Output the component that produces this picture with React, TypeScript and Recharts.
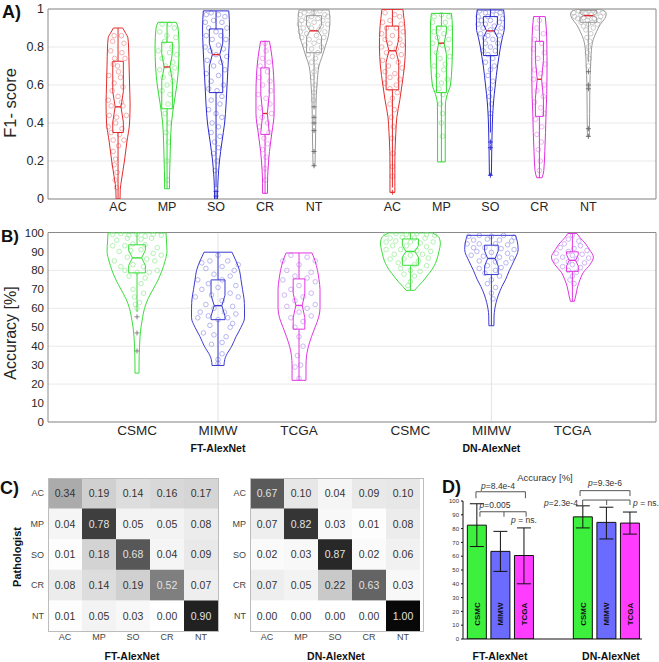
import React from 'react';
import {
  ScatterChart, Scatter, XAxis, YAxis, CartesianGrid, ReferenceLine,
  BarChart, Bar, Cell, LabelList, ErrorBar,
} from 'recharts';

const FONT = '"Liberation Sans", Arial, Helvetica, sans-serif';

// ---------- categories ----------
const classNames = ['AC', 'MP', 'SO', 'CR', 'NT'];
const modelNames = ['FT-AlexNet', 'DN-AlexNet'];
const datasetNames = ['CSMC', 'MIMW', 'TCGA'];

const classColors = ['#e42c2c', '#2fdc2f', '#2a2ad0', '#e02ee0', '#9a9a9a'];
const classPointColors = ['#f29c9c', '#9aea9a', '#a0a0ea', '#f0a0f0', '#c0c0c0'];
const datasetColors = ['#3ade3a', '#3c3cd4', '#e235e2'];
const datasetPointColors = ['#a2eea2', '#a6a6ee', '#c4a4f2'];
const barColors = ['#3df03d', '#6b6bff', '#ff3cff'];

// ---------- Panel A: F1-score violins (FT AC..NT, DN AC..NT) ----------
// profile: [value, half-width]
const aProfiles: number[][][] = [
  [[0, 0.04], [0.05, 0.045], [0.1, 0.07], [0.2, 0.13], [0.3, 0.18], [0.4, 0.235], [0.5, 0.245], [0.6, 0.235], [0.7, 0.225], [0.8, 0.215], [0.85, 0.2], [0.87, 0.16], [0.9, 0.095]],
  [[0.054, 0.05], [0.1, 0.05], [0.2, 0.06], [0.3, 0.07], [0.4, 0.09], [0.5, 0.14], [0.6, 0.2], [0.7, 0.235], [0.8, 0.245], [0.9, 0.225], [0.93, 0.185]],
  [[0, 0.03], [0.1, 0.04], [0.2, 0.07], [0.3, 0.12], [0.4, 0.175], [0.5, 0.205], [0.6, 0.225], [0.7, 0.245], [0.8, 0.265], [0.9, 0.275], [0.99, 0.26]],
  [[0.03, 0.05], [0.08, 0.05], [0.15, 0.06], [0.25, 0.09], [0.35, 0.14], [0.45, 0.185], [0.55, 0.185], [0.65, 0.175], [0.75, 0.14], [0.83, 0.09]],
  [[0.175, 0.02], [0.3, 0.03], [0.5, 0.04], [0.6, 0.06], [0.7, 0.1], [0.75, 0.165], [0.8, 0.225], [0.85, 0.285], [0.9, 0.315], [0.95, 0.325], [0.995, 0.305]],
  [[0.035, 0.05], [0.1, 0.05], [0.2, 0.05], [0.3, 0.06], [0.35, 0.07], [0.43, 0.09], [0.52, 0.15], [0.6, 0.195], [0.7, 0.245], [0.8, 0.265], [0.9, 0.255], [0.95, 0.235], [0.998, 0.215]],
  [[0.195, 0.078], [0.3, 0.078], [0.4, 0.078], [0.5, 0.082], [0.55, 0.12], [0.6, 0.185], [0.7, 0.215], [0.8, 0.225], [0.9, 0.225], [0.977, 0.205]],
  [[0.125, 0.02], [0.3, 0.03], [0.4, 0.04], [0.5, 0.06], [0.6, 0.1], [0.7, 0.145], [0.75, 0.175], [0.8, 0.205], [0.85, 0.245], [0.9, 0.285], [0.95, 0.285], [0.995, 0.27]],
  [[0.112, 0.055], [0.15, 0.09], [0.25, 0.11], [0.35, 0.125], [0.45, 0.135], [0.55, 0.15], [0.65, 0.155], [0.75, 0.155], [0.85, 0.15], [0.96, 0.12]],
  [[0.328, 0.02], [0.45, 0.025], [0.6, 0.03], [0.7, 0.045], [0.78, 0.06], [0.84, 0.1], [0.88, 0.165], [0.92, 0.245], [0.95, 0.335], [0.975, 0.365], [0.99, 0.32], [0.998, 0.24]],
];
// [q1, median, q3]
const aBoxes: number[][] = [
  [0.35, 0.485, 0.725], [0.475, 0.695, 0.825], [0.56, 0.76, 0.895], [0.34, 0.45, 0.69], [0.77, 0.885, 0.965],
  [0.575, 0.78, 0.91], [0.56, 0.82, 0.91], [0.755, 0.885, 0.96], [0.435, 0.63, 0.83], [0.93, 0.965, 0.993],
];
const aBoxHalfWidths = [0.108, 0.108, 0.137, 0.086, 0.153, 0.129, 0.102, 0.143, 0.082, 0.17];
const aNotches = [0.08, 0.07, 0.06, 0.1, 0.03, 0.06, 0.06, 0.035, 0.1, 0.012];
const aWhiskers: number[][] = [
  [0, 0.9], [0.054, 0.93], [0.06, 0.99], [0.03, 0.83], [0.5, 0.998],
  [0.06, 0.998], [0.195, 0.977], [0.35, 0.998], [0.112, 0.96], [0.72, 0.998],
];
const aOutliers: number[][] = [
  [], [], [0.04, 0.015], [], [0.485, 0.43, 0.4, 0.36, 0.25, 0.175],
  [0.035], [], [0.3, 0.27, 0.125], [], [0.67, 0.6, 0.58, 0.37, 0.33],
];
// jittered observations: [x offset, value]
const aPoints: number[][][] = [
  [[-0.08, 0.86], [0.07, 0.86], [-0.11, 0.83], [0.12, 0.82], [-0.15, 0.78], [0.08, 0.77], [-0.07, 0.74], [0.14, 0.74], [-0.1, 0.71], [-0.01, 0.7], [0.01, 0.67], [-0.19, 0.65], [0.05, 0.64], [-0.08, 0.61], [0.1, 0.59], [-0.12, 0.57], [0.0, 0.54], [-0.2, 0.52], [0.07, 0.51], [-0.14, 0.49], [0.1, 0.49], [-0.18, 0.44], [-0.03, 0.43], [0.17, 0.44], [-0.2, 0.38], [-0.05, 0.4], [0.08, 0.37], [-0.14, 0.35], [0.03, 0.34], [-0.1, 0.31], [0.01, 0.28], [-0.1, 0.25], [-0.05, 0.21], [-0.08, 0.18], [-0.02, 0.14], [-0.06, 0.1], [-0.03, 0.06], [0.12, 0.31]],
  [[-0.1, 0.92], [0.05, 0.92], [0.15, 0.9], [-0.15, 0.88], [0.0, 0.86], [0.18, 0.85], [-0.05, 0.83], [0.1, 0.8], [-0.18, 0.78], [0.05, 0.77], [0.2, 0.76], [-0.1, 0.74], [0.12, 0.72], [-0.03, 0.7], [0.16, 0.69], [-0.15, 0.68], [0.08, 0.66], [-0.08, 0.64], [0.12, 0.62], [0.0, 0.6], [-0.1, 0.57], [0.06, 0.55], [0.02, 0.5], [-0.04, 0.45], [0.04, 0.4], [-0.02, 0.35], [0.03, 0.3], [0.0, 0.2], [0.01, 0.1]],
  [[-0.2, 0.97], [-0.1, 0.98], [0.05, 0.97], [0.18, 0.96], [-0.22, 0.93], [-0.05, 0.94], [0.12, 0.93], [-0.15, 0.9], [0.22, 0.9], [0.0, 0.88], [-0.2, 0.86], [0.1, 0.86], [-0.08, 0.84], [0.2, 0.84], [-0.22, 0.8], [0.05, 0.81], [0.15, 0.79], [-0.12, 0.78], [0.0, 0.76], [0.22, 0.75], [-0.18, 0.73], [0.1, 0.72], [-0.05, 0.7], [0.18, 0.68], [-0.2, 0.66], [0.05, 0.65], [-0.1, 0.62], [0.15, 0.6], [-0.15, 0.58], [0.02, 0.57], [0.12, 0.54], [-0.1, 0.52], [0.08, 0.5], [-0.15, 0.47], [0.0, 0.45], [0.12, 0.43], [-0.08, 0.4], [0.05, 0.38], [-0.1, 0.35], [0.08, 0.33], [-0.03, 0.3], [0.05, 0.27], [-0.05, 0.24], [0.02, 0.2], [-0.02, 0.15]],
  [[0.0, 0.82], [0.02, 0.78], [-0.05, 0.74], [0.08, 0.72], [-0.1, 0.7], [0.05, 0.67], [-0.12, 0.64], [0.1, 0.62], [-0.05, 0.6], [0.12, 0.57], [-0.14, 0.55], [0.02, 0.53], [0.1, 0.5], [-0.1, 0.48], [0.13, 0.45], [-0.06, 0.43], [0.05, 0.4], [-0.12, 0.38], [0.08, 0.35], [-0.02, 0.32], [0.05, 0.29], [-0.05, 0.26], [0.02, 0.22], [0.0, 0.16], [0.01, 0.1]],
  [[-0.28, 0.97], [-0.2, 0.98], [-0.1, 0.99], [0.0, 0.98], [0.12, 0.99], [0.22, 0.97], [0.28, 0.96], [-0.25, 0.94], [-0.15, 0.95], [-0.05, 0.96], [0.08, 0.95], [0.18, 0.94], [-0.3, 0.92], [-0.12, 0.92], [0.0, 0.93], [0.15, 0.91], [0.28, 0.92], [-0.22, 0.9], [-0.05, 0.9], [0.1, 0.89], [0.22, 0.88], [-0.28, 0.88], [-0.15, 0.87], [0.05, 0.86], [0.2, 0.85], [-0.1, 0.84], [-0.25, 0.85], [0.1, 0.83], [0.0, 0.82], [-0.18, 0.81], [0.15, 0.8], [-0.05, 0.79], [0.08, 0.77], [-0.12, 0.76], [0.03, 0.74], [-0.05, 0.72], [0.05, 0.7], [0.0, 0.67], [-0.03, 0.64], [0.02, 0.6], [0.0, 0.56], [-0.01, 0.52]],
  [[-0.15, 0.98], [0.05, 0.97], [0.15, 0.96], [-0.2, 0.93], [-0.05, 0.94], [0.18, 0.92], [-0.12, 0.9], [0.08, 0.9], [0.22, 0.88], [-0.22, 0.87], [0.0, 0.86], [-0.15, 0.84], [0.15, 0.84], [-0.05, 0.82], [0.2, 0.81], [-0.22, 0.8], [0.08, 0.79], [-0.12, 0.77], [0.18, 0.76], [0.0, 0.75], [-0.2, 0.73], [0.12, 0.72], [-0.08, 0.7], [0.2, 0.69], [-0.15, 0.67], [0.05, 0.66], [-0.05, 0.64], [0.15, 0.63], [-0.15, 0.61], [0.08, 0.6], [-0.05, 0.58], [0.1, 0.56], [0.0, 0.53], [-0.05, 0.5], [0.04, 0.47], [-0.02, 0.43], [0.02, 0.38], [-0.01, 0.32], [0.01, 0.24], [0.0, 0.17], [0.0, 0.12]],
  [[-0.15, 0.96], [0.0, 0.97], [0.15, 0.96], [-0.18, 0.93], [0.08, 0.93], [-0.05, 0.9], [0.18, 0.9], [-0.15, 0.88], [0.05, 0.87], [-0.08, 0.85], [0.15, 0.84], [-0.18, 0.82], [0.02, 0.81], [0.12, 0.79], [-0.1, 0.77], [0.17, 0.75], [-0.03, 0.74], [0.08, 0.71], [-0.15, 0.7], [0.05, 0.68], [-0.08, 0.65], [0.12, 0.63], [0.0, 0.61], [-0.05, 0.58], [0.03, 0.55], [-0.02, 0.5], [0.02, 0.45], [0.0, 0.4], [0.02, 0.33]],
  [[-0.22, 0.99], [-0.1, 0.98], [0.05, 0.99], [0.2, 0.98], [-0.25, 0.96], [-0.05, 0.96], [0.12, 0.97], [0.25, 0.95], [-0.18, 0.94], [0.0, 0.94], [0.18, 0.93], [-0.25, 0.92], [-0.1, 0.92], [0.08, 0.91], [0.22, 0.9], [-0.15, 0.9], [0.0, 0.89], [0.12, 0.88], [-0.2, 0.87], [-0.05, 0.86], [0.18, 0.86], [-0.12, 0.85], [0.05, 0.84], [0.15, 0.82], [-0.1, 0.82], [0.0, 0.8], [-0.15, 0.78], [0.1, 0.78], [-0.05, 0.76], [0.05, 0.74], [-0.1, 0.72], [0.08, 0.7], [0.0, 0.68], [-0.05, 0.65], [0.05, 0.62], [0.0, 0.58], [-0.02, 0.54], [0.02, 0.5], [0.0, 0.45]],
  [[0.0, 0.94], [-0.05, 0.9], [0.08, 0.87], [-0.1, 0.84], [0.05, 0.82], [-0.12, 0.79], [0.1, 0.77], [-0.03, 0.74], [0.12, 0.71], [-0.1, 0.68], [0.03, 0.66], [-0.12, 0.63], [0.1, 0.6], [-0.05, 0.57], [0.08, 0.54], [-0.1, 0.51], [0.03, 0.48], [0.1, 0.45], [-0.08, 0.42], [0.05, 0.38], [-0.05, 0.34], [0.04, 0.3], [-0.02, 0.26], [0.02, 0.2], [0.0, 0.15]],
  [[-0.3, 0.98], [-0.2, 0.99], [-0.1, 0.995], [0.0, 0.99], [0.1, 0.995], [0.2, 0.99], [0.3, 0.98], [-0.28, 0.96], [-0.15, 0.97], [-0.05, 0.98], [0.05, 0.97], [0.15, 0.975], [0.25, 0.96], [-0.22, 0.95], [-0.1, 0.955], [0.0, 0.96], [0.12, 0.95], [0.22, 0.94], [-0.15, 0.93], [-0.02, 0.94], [0.08, 0.93], [0.18, 0.92], [-0.1, 0.91], [0.0, 0.92], [0.1, 0.9], [-0.05, 0.89], [0.05, 0.87], [-0.03, 0.85], [0.03, 0.83], [0.0, 0.8], [-0.02, 0.77], [0.02, 0.74], [0.0, 0.7]],
];

// ---------- Panel B: accuracy violins (FT CSMC..TCGA, DN CSMC..TCGA) ----------
const bProfiles: number[][][] = [
  [[25.8, 0.025], [30, 0.025], [40, 0.031], [45, 0.037], [50, 0.049], [55, 0.068], [60, 0.093], [65, 0.136], [70, 0.198], [75, 0.26], [80, 0.309], [85, 0.346], [90, 0.37], [95, 0.364], [99.8, 0.358]],
  [[29.8, 0.074], [33, 0.083], [35, 0.1], [40, 0.169], [45, 0.222], [50, 0.284], [55, 0.327], [60, 0.327], [65, 0.321], [70, 0.302], [75, 0.284], [80, 0.265], [85, 0.222], [89.6, 0.173]],
  [[22, 0.086], [30, 0.086], [35, 0.093], [40, 0.117], [45, 0.154], [50, 0.198], [55, 0.241], [60, 0.259], [70, 0.259], [75, 0.247], [80, 0.228], [85, 0.198], [89.2, 0.16]],
  [[69.5, 0.053], [71.5, 0.093], [74, 0.148], [77, 0.204], [80, 0.259], [85, 0.321], [90, 0.352], [94, 0.37], [97, 0.358], [99.8, 0.272]],
  [[50.8, 0.031], [56, 0.033], [63, 0.058], [67, 0.086], [71.5, 0.13], [75, 0.173], [80, 0.222], [85, 0.278], [91, 0.33], [95, 0.321], [98.5, 0.296]],
  [[63.7, 0.025], [67, 0.043], [71.5, 0.065], [75, 0.093], [79, 0.136], [83, 0.216], [87, 0.259], [91, 0.21], [94.5, 0.154], [97, 0.099], [99.5, 0.056]],
];
const bBoxes: number[][] = [
  [78.7, 86.6, 93.5], [54, 61.4, 75], [49, 61.5, 75.5],
  [82.7, 90, 96.6], [77.8, 86.3, 93.3], [79.5, 85.3, 89.8],
];
const bBoxHalfWidths = [0.103, 0.086, 0.072, 0.099, 0.084, 0.072];
const bNotches = [4, 5.5, 6.5, 3, 4, 3];
const bWhiskers: number[][] = [[58, 99.8], [29.8, 89.6], [22, 89.2], [69.5, 99.8], [50.8, 98.5], [63.7, 99.5]];
const bOutliers: number[][] = [[55.5, 47, 37.5], [], [], [], [], []];
const bPoints: number[][][] = [
  [[-0.3, 99], [-0.2, 99.5], [-0.1, 98.5], [0.0, 99], [0.1, 98], [0.2, 99], [0.3, 98.5], [-0.25, 96], [-0.12, 97], [0.05, 96.5], [0.18, 97], [-0.3, 93], [-0.15, 93], [-0.05, 94], [0.1, 93.5], [0.25, 92], [-0.22, 90], [-0.08, 90.5], [0.05, 91], [0.2, 89], [0.3, 88], [-0.28, 85], [-0.12, 87], [0.12, 86], [0.22, 85], [-0.2, 82], [-0.05, 83], [0.08, 82], [0.25, 80], [-0.15, 80], [0.0, 79], [0.15, 79], [-0.1, 77], [0.1, 76], [0.05, 73], [-0.05, 70], [0.08, 68], [-0.03, 66], [0.03, 63], [0.0, 60], [-0.02, 62]],
  [[0.0, 88], [-0.1, 85], [0.12, 85], [-0.2, 84], [0.25, 83], [0.05, 82], [-0.15, 81], [0.2, 80], [-0.05, 78], [0.15, 77], [-0.25, 75], [0.05, 75], [-0.12, 73], [0.22, 72], [0.0, 71], [-0.2, 70], [0.15, 68], [-0.08, 67], [0.25, 66], [-0.28, 66], [0.05, 64], [-0.15, 62], [0.18, 61], [-0.05, 60], [0.08, 58], [-0.22, 58], [0.22, 57], [-0.12, 56], [0.12, 55], [-0.25, 55], [0.0, 54], [0.18, 52], [-0.1, 51], [0.15, 50], [-0.18, 47], [-0.05, 46], [0.1, 45], [0.05, 42], [-0.08, 41], [0.05, 36], [0.0, 33], [0.0, 31]],
  [[-0.1, 88], [0.1, 87], [0.2, 85], [-0.2, 85], [0.0, 83], [-0.15, 80], [0.15, 79], [-0.05, 77], [0.1, 76], [-0.2, 75], [0.2, 74], [0.0, 72], [-0.1, 70], [0.15, 68], [-0.18, 67], [0.05, 66], [-0.05, 64], [0.2, 62], [-0.15, 61], [0.1, 60], [0.0, 58], [0.15, 56], [-0.1, 55], [0.05, 53], [-0.05, 50], [0.0, 45], [0.05, 40], [-0.02, 35], [0.02, 30], [-0.05, 29], [0.0, 23]],
  [[-0.3, 99], [-0.18, 99.5], [-0.05, 99], [0.08, 99.5], [0.2, 99], [0.3, 98.5], [-0.25, 97], [-0.1, 97.5], [0.05, 97], [0.18, 97], [-0.3, 95], [-0.18, 95.5], [0.0, 95], [0.12, 94.5], [0.28, 95], [-0.22, 93], [-0.05, 93], [0.2, 92.5], [-0.3, 91], [-0.12, 91], [0.08, 90.5], [0.25, 90], [-0.2, 88.5], [0.0, 88], [0.15, 88.5], [-0.25, 86], [-0.08, 86], [0.22, 86.5], [0.1, 85], [-0.15, 84], [0.05, 83], [0.2, 82.5], [-0.12, 81], [0.0, 80], [0.12, 79.5], [-0.08, 78], [0.05, 77], [0.0, 74], [-0.03, 72]],
  [[-0.28, 98], [-0.15, 98.5], [0.0, 98], [0.15, 98.5], [0.28, 97.5], [-0.22, 96], [-0.05, 96.5], [0.1, 96], [0.25, 95.5], [-0.3, 94], [-0.15, 94], [0.05, 94], [0.2, 93.5], [-0.22, 92], [-0.08, 92], [0.12, 91.5], [0.28, 91], [-0.18, 90], [0.0, 89.5], [0.2, 89], [-0.25, 88], [-0.1, 87.5], [0.1, 87], [0.25, 86.5], [-0.15, 85], [0.05, 84.5], [0.18, 84], [-0.05, 82.5], [0.12, 81.5], [-0.15, 81], [0.05, 80], [-0.08, 78.5], [0.1, 77], [0.0, 75], [-0.05, 73], [0.05, 71], [0.0, 68], [0.02, 65]],
  [[0.0, 98.5], [-0.05, 96.5], [0.08, 95.5], [-0.1, 94], [0.1, 93], [-0.15, 92], [0.02, 91.5], [0.18, 90.5], [-0.05, 90], [-0.2, 89], [0.12, 88.5], [0.0, 88], [-0.12, 87], [0.2, 86.5], [0.05, 86], [-0.2, 85], [-0.05, 84.5], [0.15, 84], [0.0, 83], [-0.12, 82], [0.1, 81.5], [-0.05, 80], [0.05, 79], [0.0, 77], [-0.03, 75], [0.02, 73]],
];

// ---------- Panel C: confusion matrices ----------
const ftMatrix: number[][] = [
  [0.34, 0.19, 0.14, 0.16, 0.17],
  [0.04, 0.78, 0.05, 0.05, 0.08],
  [0.01, 0.18, 0.68, 0.04, 0.09],
  [0.08, 0.14, 0.19, 0.52, 0.07],
  [0.01, 0.05, 0.03, 0.00, 0.90],
];
const dnMatrix: number[][] = [
  [0.67, 0.10, 0.04, 0.09, 0.10],
  [0.07, 0.82, 0.03, 0.01, 0.08],
  [0.02, 0.03, 0.87, 0.02, 0.06],
  [0.07, 0.05, 0.22, 0.63, 0.03],
  [0.00, 0.00, 0.00, 0.00, 1.00],
];

// ---------- Panel D: mean accuracy bars ----------
const dMeans: number[][] = [[82.5, 63.5, 60.5], [88.5, 84.5, 84]];
const dLow: number[][] = [[67, 49, 40], [80.5, 72.5, 76]];
const dHigh: number[][] = [[98, 78, 80.5], [96.5, 95.5, 92]];
const dPValues = ['8.4e-4', '0.005', 'ns.', '9.3e-6', '2.3e-4', 'ns.'];

// ---------- helpers ----------
const Empty = () => <g />;
const circleShape = (color: string) => (p: any) =>
  <circle cx={p.cx} cy={p.cy} r={2.3} fill="none" stroke={color} strokeWidth={0.8} />;
const plusShape = (color: string) => (p: any) =>
  <path d={`M${p.cx - 2.5},${p.cy}H${p.cx + 2.5}M${p.cx},${p.cy - 2.5}V${p.cy + 2.5}`} stroke={color} strokeWidth={0.9} fill="none" />;

type Pt = { x: number; y: number };
const seg = (key: string, pts: Pt[], color: string, curve: any = 'linear', w = 1) => (
  <Scatter key={key} data={pts} shape={Empty} line={{ stroke: color, strokeWidth: w }}
    lineJointType={curve} isAnimationActive={false} legendType="none" />
);

function violin(key: string, pos: number, color: string, ptColor: string, medColor: string,
  profile: number[][], box: number[], hw: number, notch: number, whisk: number[],
  outliers: number[], points: number[][], outlierColor: string) {
  const desc = [...profile].sort((a, b) => b[0] - a[0]);
  const top = desc[0];
  const bot = desc[desc.length - 1];
  const right = desc.map(([v, w]) => ({ x: pos + w, y: v }));
  const left = desc.map(([v, w]) => ({ x: pos - w, y: v }));
  const [q1, med, q3] = box;
  const nw = hw * 0.55;
  const lo = Math.max(q1, med - notch);
  const hi = Math.min(q3, med + notch);
  const boxPts = [
    { x: pos - hw, y: q1 }, { x: pos + hw, y: q1 }, { x: pos + hw, y: lo }, { x: pos + nw, y: med },
    { x: pos + hw, y: hi }, { x: pos + hw, y: q3 }, { x: pos - hw, y: q3 }, { x: pos - hw, y: hi },
    { x: pos - nw, y: med }, { x: pos - hw, y: lo }, { x: pos - hw, y: q1 },
  ];
  return [
    <Scatter key={`${key}-pts`} data={points.map(([dx, v]) => ({ x: pos + dx, y: v }))}
      shape={circleShape(ptColor)} isAnimationActive={false} legendType="none" />,
    seg(`${key}-r`, right, color, 'monotoneY'),
    seg(`${key}-l`, left, color, 'monotoneY'),
    seg(`${key}-t`, [{ x: pos - top[1], y: top[0] }, { x: pos + top[1], y: top[0] }], color),
    seg(`${key}-b`, [{ x: pos - bot[1], y: bot[0] }, { x: pos + bot[1], y: bot[0] }], color),
    seg(`${key}-wl`, [{ x: pos, y: whisk[0] }, { x: pos, y: q1 }], color),
    seg(`${key}-wh`, [{ x: pos, y: q3 }, { x: pos, y: whisk[1] }], color),
    seg(`${key}-box`, boxPts, color),
    seg(`${key}-med`, [{ x: pos - nw, y: med }, { x: pos + nw, y: med }], medColor, 'linear', 1.4),
    <Scatter key={`${key}-out`} data={outliers.map((v) => ({ x: pos, y: v }))}
      shape={plusShape(outlierColor)} isAnimationActive={false} legendType="none" />,
  ];
}

const aPos = (m: number, c: number) => 1 + c + m * 5.6;
const bPos = (m: number, d: number) => 1 + d + m * 3.375;
const aTickPos = modelNames.flatMap((_, m) => classNames.map((_, c) => aPos(m, c)));
const aTickLabels = modelNames.flatMap(() => classNames);
const bTickPos = modelNames.flatMap((_, m) => datasetNames.map((_, d) => bPos(m, d)));
const bTickLabels = modelNames.flatMap(() => datasetNames);

const tickStyle = (size: number) => ({ fontSize: size, fill: '#262626', fontFamily: FONT });

function PanelA() {
  return (
    <ScatterChart width={659} height={220} margin={{ top: 9, right: 3, bottom: 1, left: 0 }}>
      <CartesianGrid vertical={false} stroke="#e9e9e9" />
      <XAxis type="number" dataKey="x" domain={[-0.43, 11.98]} allowDataOverflow ticks={aTickPos}
        interval={0} tickFormatter={(_: any, i: number) => aTickLabels[i]} height={20}
        tick={tickStyle(12.5)} tickLine={false} tickSize={0} tickMargin={3} axisLine={{ stroke: '#8a8a8a' }} />
      <YAxis type="number" dataKey="y" domain={[0, 1]} allowDataOverflow ticks={[0, 0.2, 0.4, 0.6, 0.8, 1]}
        width={48} tick={tickStyle(12.5)} tickLine={false} tickSize={0} tickMargin={4} axisLine={{ stroke: '#8a8a8a' }}
        tickFormatter={(v: number) => (v === 0 || v === 1 ? String(v) : v.toFixed(1))} />
      <YAxis yAxisId="r" orientation="right" mirror type="number" domain={[0, 1]}
        ticks={[0, 0.2, 0.4, 0.6, 0.8, 1]} tick={false} tickSize={4} axisLine={{ stroke: '#8a8a8a' }}
        tickLine={{ stroke: '#8a8a8a' }} />
      <ReferenceLine y={1} stroke="#8a8a8a" />
      {modelNames.flatMap((_, m) => classNames.flatMap((_, c) => {
        const i = m * 5 + c;
        return violin(`a${i}`, aPos(m, c), classColors[c], classPointColors[c], '#e3262b',
          aProfiles[i], aBoxes[i], aBoxHalfWidths[i], aNotches[i], aWhiskers[i], aOutliers[i], aPoints[i],
          c === 4 ? '#666' : classColors[c]);
      }))}
    </ScatterChart>
  );
}

function PanelB() {
  return (
    <ScatterChart width={659} height={225} margin={{ top: 12.5, right: 3, bottom: 3, left: 0 }}>
      <CartesianGrid vertical={false} stroke="#e9e9e9" />
      <ReferenceLine x={bPos(0, 1)} stroke="#e3e3e3" />
      <ReferenceLine x={bPos(1, 1)} stroke="#e3e3e3" />
      <XAxis type="number" dataKey="x" domain={[-0.099, 7.407]} allowDataOverflow ticks={bTickPos}
        interval={0} tickFormatter={(_: any, i: number) => bTickLabels[i]} height={20}
        tick={tickStyle(13.5)} tickLine={false} tickSize={0} tickMargin={3} axisLine={{ stroke: '#8a8a8a' }} />
      <YAxis type="number" dataKey="y" domain={[0, 100]} allowDataOverflow
        ticks={[0, 10, 20, 30, 40, 50, 60, 70, 80, 90, 100]} width={48} tick={tickStyle(11.5)}
        tickLine={false} tickSize={0} tickMargin={4} axisLine={{ stroke: '#8a8a8a' }} />
      <YAxis yAxisId="r" orientation="right" mirror type="number" domain={[0, 100]}
        ticks={[0, 10, 20, 30, 40, 50, 60, 70, 80, 90, 100]} tick={false} tickSize={4}
        axisLine={{ stroke: '#8a8a8a' }} tickLine={{ stroke: '#8a8a8a' }} />
      <ReferenceLine y={100} stroke="#8a8a8a" />
      {modelNames.flatMap((_, m) => datasetNames.flatMap((_, d) => {
        const i = m * 3 + d;
        return violin(`b${i}`, bPos(m, d), datasetColors[d], datasetPointColors[d], datasetColors[d],
          bProfiles[i], bBoxes[i], bBoxHalfWidths[i], bNotches[i], bWhiskers[i], bOutliers[i], bPoints[i],
          '#777');
      }))}
    </ScatterChart>
  );
}

const grayOf = (v: number) => {
  const g = Math.round(255 * (1 - v) * 0.97 + 8);
  const h = Math.max(0, Math.min(255, g)).toString(16).padStart(2, '0');
  return `#${h}${h}${h}`;
};

const cellLabel = (props: any) => {
  const { x, y, width, height, value } = props;
  const v = Number(value);
  return (
    <text x={Number(x) + Number(width) / 2} y={Number(y) + Number(height) / 2} dy="0.36em"
      textAnchor="middle" fontSize={10.5} fontFamily={FONT} fill={v > 0.45 ? '#e2e2e2' : '#333'}>
      {v.toFixed(2)}
    </text>
  );
};

function Heatmap({ matrix }: { matrix: number[][] }) {
  const rows = classNames.map((r, i) => {
    const o: any = { row: r };
    classNames.forEach((_, j) => { o[`w${j}`] = 1; o[`v${j}`] = matrix[i][j]; });
    return o;
  });
  return (
    <BarChart layout="vertical" width={230} height={190} data={rows}
      margin={{ top: 8, right: 12, bottom: 15, left: 26 }} barCategoryGap={0} barGap={0}>
      <XAxis type="number" domain={[0, 5]} allowDataOverflow ticks={[0.5, 1.5, 2.5, 3.5, 4.5]} interval={0}
        tickFormatter={(_: any, i: number) => classNames[i]} height={14} tickLine={false} axisLine={false}
        tickSize={0} tickMargin={3} tick={{ fontSize: 9, fill: '#444', fontFamily: FONT }} />
      <YAxis type="category" dataKey="row" width={22} tickLine={false} axisLine={false} tickSize={0} tickMargin={4}
        tick={{ fontSize: 9, fill: '#444', fontFamily: FONT }} />
      {classNames.map((_, j) => (
        <Bar key={j} dataKey={`w${j}`} stackId="cm" isAnimationActive={false}>
          {rows.map((r, i) => <Cell key={i} fill={grayOf(matrix[i][j])} />)}
          <LabelList dataKey={`v${j}`} content={cellLabel} />
        </Bar>
      ))}
    </BarChart>
  );
}

const barNameLabel = (props: any) => {
  const { x, y, width, height, value } = props;
  const cx = Number(x) + Number(width) / 2;
  const cy = Number(y) + Number(height) - 25;
  return (
    <text x={cx} y={cy} dy="0.35em" transform={`rotate(-90 ${cx} ${cy})`} textAnchor="middle"
      fontSize={8} fontWeight="bold" fontFamily={FONT} fill="#111">{value}</text>
  );
};

function PanelD() {
  const rows = modelNames.flatMap((_, g) => datasetNames.map((name, k) => ({
    x: 1 + k + g * 4.5,
    acc: dMeans[g][k],
    err: [dMeans[g][k] - dLow[g][k], dHigh[g][k] - dMeans[g][k]],
    name,
    k,
  })));
  const br = (key: string, x1: number, x2: number, y: number, drop: number, mid?: number) => {
    const legs = [x1, x2, ...(mid !== undefined ? [mid] : [])];
    return [
      <ReferenceLine key={`${key}-h`} segment={[{ x: x1, y }, { x: x2, y }]} stroke="#555" ifOverflow="visible" />,
      ...legs.map((lx, i) => (
        <ReferenceLine key={`${key}-v${i}`} segment={[{ x: lx, y }, { x: lx, y: y - drop }]} stroke="#555" ifOverflow="visible" />
      )),
    ];
  };
  return (
    <BarChart width={239} height={190} data={rows} margin={{ top: 31, right: 17, bottom: 16, left: 23 }}>
      <XAxis type="number" dataKey="x" domain={[0.4, 8.0]} allowDataOverflow ticks={[2, 6.5]} tick={false}
        tickSize={2} height={5} axisLine={{ stroke: '#111' }} tickLine={{ stroke: '#999' }} />
      <YAxis type="number" domain={[0, 100]} allowDataOverflow ticks={[0, 10, 20, 30, 40, 50, 60, 70, 80, 90, 100]}
        width={20} tickSize={2} tickMargin={2} axisLine={{ stroke: '#111' }} tickLine={{ stroke: '#111' }}
        tick={{ fontSize: 6, fill: '#333', fontFamily: FONT }} />
      <Bar dataKey="acc" barSize={19} stroke="#111" strokeWidth={1} isAnimationActive={false}>
        {rows.map((r, i) => <Cell key={i} fill={barColors[r.k]} />)}
        <ErrorBar dataKey="err" width={7} stroke="#111" strokeWidth={1} />
        <LabelList dataKey="name" content={barNameLabel} />
      </Bar>
      {br('ft1', 0.95, 3.05, 106.7, 4.7)}
      {br('ft2', 1.12, 3.08, 92.2, 3.6, 2.14)}
      {br('dn1', 5.37, 7.49, 107.5, 3.9)}
      {br('dn2', 5.48, 7.49, 100.7, 3.6, 6.5)}
    </BarChart>
  );
}

const T = (props: any) => <text fontFamily={FONT} {...props} />;

function Overlay() {
  const p = (label: string, x: number, y: number) => (
    <T x={x} y={y} fontSize={8.5} fill="#333" textAnchor="middle">
      <tspan fontStyle="italic">p</tspan>{label.startsWith('ns') ? ` = ${label}` : `=${label}`}
    </T>
  );
  return (
    <svg width={659} height={662} style={{ position: 'absolute', left: 0, top: 0, pointerEvents: 'none' }}>
      <T x={2} y={18} fontSize={18} fontWeight="bold" fill="#111">A)</T>
      <T x={1} y={242} fontSize={17} fontWeight="bold" fill="#111">B)</T>
      <T x={0} y={494} fontSize={18} fontWeight="bold" fill="#111">C)</T>
      <T x={442} y={493} fontSize={18} fontWeight="bold" fill="#111">D)</T>
      <T x={16} y={103} fontSize={16.5} fill="#262626" textAnchor="middle" transform="rotate(-90 16 103)">F1- score</T>
      <T x={16} y={333} fontSize={16} fill="#262626" textAnchor="middle" transform="rotate(-90 16 333)">Accuracy [%]</T>
      <T x={bPos(0, 1) * 81 + 56} y={452} fontSize={10.5} fontWeight="bold" fill="#111" textAnchor="middle">{modelNames[0]}</T>
      <T x={bPos(1, 1) * 81 + 56} y={452} fontSize={10.5} fontWeight="bold" fill="#111" textAnchor="middle">{modelNames[1]}</T>
      <T x={21} y={557} fontSize={11} fontWeight="bold" fill="#111" textAnchor="middle" transform="rotate(-90 21 557)">Pathologist</T>
      <T x={132} y={660} fontSize={10.5} fontWeight="bold" fill="#111" textAnchor="middle">{modelNames[0]}</T>
      <T x={336} y={660} fontSize={10.5} fontWeight="bold" fill="#111" textAnchor="middle">{modelNames[1]}</T>
      <T x={545} y={481} fontSize={9.5} fill="#333" textAnchor="middle">Accuracy [%]</T>
      {p(dPValues[0], 498, 489)}
      {p(dPValues[1], 495, 508)}
      {p(dPValues[2], 524, 523)}
      {p(dPValues[3], 605, 486)}
      {p(dPValues[4], 561, 506)}
      {p(dPValues[5], 646, 506)}
      <T x={500} y={660} fontSize={10.5} fontWeight="bold" fill="#111" textAnchor="middle">{modelNames[0]}</T>
      <T x={611} y={660} fontSize={10.5} fontWeight="bold" fill="#111" textAnchor="middle">{modelNames[1]}</T>
    </svg>
  );
}

export default function App() {
  const abs = (left: number, top: number): React.CSSProperties => ({ position: 'absolute', left, top });
  return (
    <div style={{ position: 'absolute', left: 0, top: 0, width: 659, height: 662, background: '#fff', fontFamily: FONT, overflow: 'hidden' }}>
      <div style={abs(0, 0)}><PanelA /></div>
      <div style={abs(0, 220)}><PanelB /></div>
      <div style={abs(0, 470)}><Heatmap matrix={ftMatrix} /></div>
      <div style={abs(202, 470)}><Heatmap matrix={dnMatrix} /></div>
      <div style={{ position: 'absolute', left: 48, top: 478, width: 169, height: 152, border: '1px solid #bcbcbc', pointerEvents: 'none' }} />
      <div style={{ position: 'absolute', left: 250, top: 478, width: 172, height: 152, border: '1px solid #bcbcbc', pointerEvents: 'none' }} />
      <div style={abs(420, 470)}><PanelD /></div>
      <Overlay />
    </div>
  );
}
